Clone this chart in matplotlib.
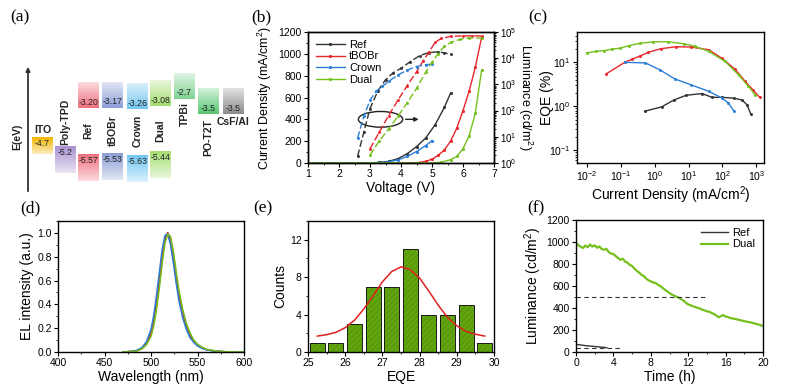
import numpy as np
import matplotlib
matplotlib.use('Agg')
import matplotlib.pyplot as plt
import matplotlib.colors as mcolors
from matplotlib.patches import Ellipse
from matplotlib.ticker import MultipleLocator, AutoMinorLocator, LogLocator, FormatStrFormatter

plt.rcParams['font.family'] = ['Liberation Sans', 'DejaVu Sans']
plt.rcParams['mathtext.fontset'] = 'custom'
plt.rcParams['mathtext.rm'] = 'Liberation Sans'
plt.rcParams['axes.linewidth'] = 1.0
plt.rcParams['hatch.linewidth'] = 0.4

# ---------------- data ----------------
# (a) energy levels
materials = ['ITO', 'Poly-TPD', 'Ref', 'tBOBr', 'Crown', 'Dual', 'TPBi', 'PO-T2T', 'CsF/Al']
lumo = [None, None, -3.20, -3.17, -3.26, -3.08, -2.7, -3.5, -3.5]
homo = [-4.7, -5.2, -5.57, -5.53, -5.63, -5.44, None, None, None]
lumo_txt = [None, None, '-3.20', '-3.17', '-3.26', '-3.08', '-2.7', '-3.5', '-3.5']
homo_txt = ['-4.7', '-5.2', '-5.57', '-5.53', '-5.63', '-5.44', None, None, None]
box_colors = ['#f2b600', '#a993d2', '#f0707e', '#8c9ed6', '#72c6f2', '#a4de70', '#80d292', '#58c670', '#8c8c8c']

devices = ['Ref', 'tBOBr', 'Crown', 'Dual']
dev_colors = ['#333333', '#e8272d', '#2a7fd6', '#74c01c']

# (b) J-V and L-V
v_j = {
    'Ref':   [1.0, 1.5, 2.0, 2.5, 3.0, 3.3, 3.6, 3.9, 4.2, 4.5, 4.8, 5.1, 5.4, 5.6],
    'tBOBr': [1.0, 1.5, 2.0, 2.5, 3.0, 3.5, 4.0, 4.5, 4.8, 5.0, 5.2, 5.4, 5.6, 5.8, 6.0, 6.2, 6.4, 6.6],
    'Crown': [1.0, 1.5, 2.0, 2.5, 3.0, 3.3, 3.6, 3.9, 4.2, 4.5, 4.8, 5.0],
    'Dual':  [1.0, 1.5, 2.0, 2.5, 3.0, 3.5, 4.0, 4.5, 5.0, 5.3, 5.6, 5.8, 6.0, 6.2, 6.4, 6.6],
}
j_val = {
    'Ref':   [0, 0, 0, 0, 1, 5, 15, 40, 85, 150, 230, 350, 510, 640],
    'tBOBr': [0, 0, 0, 0, 0, 0, 0, 2, 15, 35, 70, 120, 200, 320, 480, 660, 880, 1150],
    'Crown': [0, 0, 0, 0, 1, 4, 12, 28, 60, 105, 160, 205],
    'Dual':  [0, 0, 0, 0, 0, 0, 0, 0, 0, 8, 30, 60, 130, 250, 460, 850],
}
v_l = {
    'Ref':   [2.6, 2.8, 3.0, 3.25, 3.5, 3.75, 4.0, 4.3, 4.6, 4.9, 5.2, 5.4, 5.6],
    'tBOBr': [3.0, 3.3, 3.6, 3.9, 4.2, 4.5, 4.7, 4.9, 5.1, 5.3, 5.6, 6.0, 6.3, 6.6],
    'Crown': [2.6, 2.8, 3.0, 3.2, 3.4, 3.6, 3.9, 4.2, 4.5, 4.8, 5.0],
    'Dual':  [3.0, 3.3, 3.6, 3.9, 4.2, 4.5, 4.8, 5.0, 5.2, 5.4, 5.6, 5.9, 6.2, 6.6],
}
l_val = {
    'Ref':   [1.8, 15, 120, 550, 1500, 2800, 4100, 7400, 12500, 16500, 17500, 16000, 14000],
    'tBOBr': [3.5, 15, 65, 250, 900, 3000, 7500, 17000, 40000, 57000, 68000, 71000, 72000, 70000],
    'Crown': [9, 60, 250, 550, 850, 1300, 2300, 3500, 4800, 5700, 5900],
    'Dual':  [2, 7, 20, 60, 200, 700, 3000, 7000, 15000, 28000, 40000, 52000, 60000, 58000],
}

# (c) EQE vs current density
eqe_j = {
    'Ref':   [0.5, 1.6, 3.6, 8.5, 25, 49, 95, 215, 380, 530, 690],
    'tBOBr': [0.037, 0.135, 0.21, 0.37, 0.65, 1.5, 4.2, 11.5, 39, 95, 240, 470, 830, 1260],
    'Crown': [0.133, 0.53, 1.4, 3.9, 11.5, 39, 95, 150, 220],
    'Dual':  [0.0096, 0.018, 0.031, 0.055, 0.096, 0.17, 0.37, 0.89, 2.4, 7.1, 15.8, 39, 120, 300, 590, 940],
}
eqe_val = {
    'Ref':   [0.77, 0.97, 1.38, 1.78, 1.95, 1.6, 1.6, 1.53, 1.39, 1.09, 0.67],
    'tBOBr': [5.5, 10.2, 11.7, 14, 16.9, 20.4, 22.6, 22.3, 19.4, 12.5, 6.9, 3.7, 2.3, 1.6],
    'Crown': [10, 9.7, 6.8, 4.2, 3.1, 2.2, 1.55, 1.19, 0.77],
    'Dual':  [16.3, 17.8, 18.4, 20, 21, 24, 27, 29.4, 29.4, 26.5, 23, 17.8, 10.5, 5.2, 2.85, 1.78],
}

# (d) EL spectra
wavelength = [470, 480, 485, 490, 495, 500, 503, 506, 509, 512, 515, 518, 521, 524, 527,
              530, 534, 538, 542, 546, 550, 555, 560, 570, 580, 600]
el = {
    'Ref':   [0, 0.005, 0.012, 0.03, 0.07, 0.16, 0.26, 0.41, 0.6, 0.8, 0.95, 1.0, 0.94, 0.8, 0.63,
              0.48, 0.33, 0.22, 0.14, 0.09, 0.06, 0.035, 0.02, 0.007, 0.002, 0],
    'tBOBr': [0, 0.005, 0.011, 0.028, 0.066, 0.15, 0.25, 0.39, 0.58, 0.79, 0.94, 1.0, 0.95, 0.82, 0.65,
              0.5, 0.34, 0.23, 0.15, 0.095, 0.062, 0.036, 0.02, 0.007, 0.002, 0],
    'Crown': [0, 0.006, 0.015, 0.036, 0.085, 0.19, 0.31, 0.48, 0.67, 0.86, 0.98, 0.99, 0.9, 0.75, 0.58,
              0.43, 0.29, 0.19, 0.12, 0.08, 0.05, 0.03, 0.017, 0.006, 0.002, 0],
    'Dual':  [0, 0.004, 0.01, 0.025, 0.06, 0.13, 0.22, 0.36, 0.54, 0.74, 0.91, 0.99, 0.97, 0.85, 0.68,
              0.52, 0.36, 0.24, 0.16, 0.1, 0.065, 0.04, 0.022, 0.008, 0.002, 0],
}

# (e) EQE histogram + gaussian fit
bin_centers = [25.25, 25.75, 26.25, 26.75, 27.25, 27.75, 28.25, 28.75, 29.25, 29.75]
counts = [1, 1, 3, 7, 7, 11, 4, 4, 5, 1]
fit_x = [25.25, 25.5, 25.75, 26.0, 26.25, 26.5, 26.75, 27.0, 27.25, 27.5, 27.75,
         28.0, 28.25, 28.5, 28.75, 29.0, 29.25, 29.5, 29.75]
fit_y = [1.7, 1.85, 2.1, 2.6, 3.4, 4.6, 6.0, 7.5, 8.6, 9.1, 8.8,
         7.9, 6.5, 5.0, 3.7, 2.8, 2.2, 1.9, 1.7]

# (f) lifetime
t_dual = [i * 0.25 for i in range(81)]
lum_dual = [995, 970, 958, 945, 968, 952, 978, 958, 970, 948, 960, 935, 930, 938, 908, 895,
            890, 872, 855, 838, 848, 822, 812, 792, 782, 758, 738, 722, 702, 690, 668, 652,
            642, 632, 628, 612, 600, 584, 566, 552, 536, 522, 512, 502, 494, 480, 466, 448,
            432, 425, 415, 410, 400, 396, 384, 378, 370, 366, 355, 345, 332, 316, 326, 336,
            322, 318, 308, 305, 300, 296, 290, 286, 280, 276, 272, 268, 262, 256, 250, 244, 236]
t_ref = [0, 0.1, 0.5, 1.0, 1.5, 2.0, 2.5, 3.0, 3.3]
lum_ref = [85, 68, 64, 58, 54, 50, 46, 42, 39]

# ---------------- figure ----------------
W, H = 798, 390
fig = plt.figure(figsize=(W / 100, H / 100), dpi=100)


def px_axes(left, top, right, bottom):
    return fig.add_axes([left / W, 1 - bottom / H, (right - left) / W, (bottom - top) / H])


def style(ax, fs=7.5):
    ax.tick_params(direction='out', length=3, width=0.8, labelsize=fs, pad=1.5)
    ax.tick_params(which='minor', direction='out', length=1.6, width=0.6)


# panel labels
for lab, x, y in [('(a)', 10, 17), ('(b)', 251, 17), ('(c)', 528, 17),
                  ('(d)', 20, 208), ('(e)', 253, 208), ('(f)', 527, 208)]:
    fig.text(x / W, 1 - y / H, lab, family='Liberation Serif', fontsize=12.5, va='center', ha='left')

# ---------------- (a) ----------------
ax = fig.add_axes([0, 0, 258 / W, 1])
e_ref, y_ref, scale = -3.20, 108.3, 19.4


def E(ypx):
    return e_ref + (y_ref - ypx) / scale


ax.set_xlim(0, 258)
ax.set_ylim(E(H), E(0))
ax.axis('off')


def grad_box(x0, e0, e1, color, dark_top):
    rgb = np.array(mcolors.to_rgb(color))
    t = np.linspace(0, 1, 60)
    w = 0.25 + 0.75 * (t if dark_top else 1 - t)
    arr = rgb * w[:, None] + (1 - w[:, None])
    ax.imshow(arr[:, None, :], extent=[x0, x0 + 21, e0, e1], origin='lower',
              aspect='auto', interpolation='bilinear', zorder=1)


box_x = [32, 55, 78, 102, 127, 150, 174, 198, 223]
for i, m in enumerate(materials):
    x0 = box_x[i]
    if lumo[i] is not None:
        grad_box(x0, lumo[i], lumo[i] + 1.32, box_colors[i], False)
        ax.text(x0 + 10.5, lumo[i] + 0.3, lumo_txt[i], ha='center', va='center', fontsize=6.3, color='#222222')
    if homo[i] is not None:
        h = 0.86 if m == 'ITO' else 1.36
        grad_box(x0, homo[i] - h, homo[i], box_colors[i], True)
        ax.text(x0 + 10.5, homo[i] - 0.3, homo_txt[i], ha='center', va='center', fontsize=6.3, color='#222222')

lab_kw = dict(fontsize=7.5, fontweight='bold', color='#222222')
ax.text(box_x[0] + 10.5, E(130), 'ITO', ha='center', va='center', **lab_kw)
ax.text(box_x[1] + 10.5, E(145), 'Poly-TPD', ha='center', va='bottom', rotation=90, **lab_kw)
for i in range(2, 6):
    ax.text(box_x[i] + 10.5, E(131), materials[i], ha='center', va='center', rotation=90, **lab_kw)
ax.text(box_x[6] + 10.5, E(102), 'TPBi', ha='center', va='top', rotation=90, **lab_kw)
ax.text(box_x[7] + 10.5, E(119), 'PO-T2T', ha='center', va='top', rotation=90, **lab_kw)
ax.text(box_x[8] + 10.5, E(117), 'CsF/Al', ha='center', va='top', **lab_kw)
ax.text(17, E(137), 'E(eV)', ha='center', va='center', rotation=90, **lab_kw)
ax.annotate('', xy=(28, E(64)), xytext=(28, E(194)),
            arrowprops=dict(arrowstyle='-|>', color='#333333', lw=1.3, mutation_scale=6))

# ---------------- (b) ----------------
ax = px_axes(308, 32, 494, 163)
ax2 = ax.twinx()
for d, c in zip(devices, dev_colors):
    ax.plot(v_j[d], j_val[d], color=c, lw=1.0, marker='s', ms=1.1, label=d)
    ax2.plot(v_l[d], l_val[d], color=c, lw=1.0, ls=(0, (5, 2)), marker='s', ms=1.0)
ax.set_xlim(1, 7)
ax.set_ylim(0, 1200)
ax.xaxis.set_major_locator(MultipleLocator(1))
ax.yaxis.set_major_locator(MultipleLocator(200))
ax.yaxis.set_minor_locator(AutoMinorLocator(2))
ax.xaxis.set_minor_locator(AutoMinorLocator(2))
ax2.set_yscale('log')
ax2.set_ylim(1, 1e5)
style(ax)
style(ax2, fs=7)
ax.set_xlabel('Voltage (V)', fontsize=10, labelpad=1)
ax.set_ylabel('Current Density (mA/cm$^2$)', fontsize=9)
ax.yaxis.set_label_coords(-0.185, 0.5)
ax2.set_ylabel('Luminance (cd/m$^2$)', fontsize=9, rotation=270, va='center')
ax2.yaxis.set_label_coords(1.165, 0.5)
ax.add_patch(Ellipse((3.34, 400), 1.43, 144, fill=False, lw=1.0, ec='#222222'))
ax.annotate('', xy=(4.66, 400), xytext=(4.06, 400),
            arrowprops=dict(arrowstyle='-|>', color='#222222', lw=1.0, mutation_scale=6))
ax.legend(loc='upper left', frameon=False, fontsize=8, handlelength=2.6, labelspacing=0.15,
          borderaxespad=0.3, handletextpad=0.4)

# ---------------- (c) ----------------
ax = px_axes(577, 32, 764, 163)
for d, c in zip(devices, dev_colors):
    ax.plot(eqe_j[d], eqe_val[d], color=c, lw=1.0, marker='s', ms=1.0)
ax.set_xscale('log')
ax.set_yscale('log')
ax.set_xlim(10 ** -2.3, 10 ** 3.23)
ax.set_ylim(10 ** -1.29, 10 ** 1.69)
ax.xaxis.set_major_locator(LogLocator(base=10, numticks=20))
ax.yaxis.set_major_locator(LogLocator(base=10, numticks=20))
style(ax)
ax.set_xlabel('Current Density (mA/cm$^2$)', fontsize=10, labelpad=1)
ax.set_ylabel('EQE (%)', fontsize=10, va='center')
ax.yaxis.set_label_coords(-0.16, 0.5)

# ---------------- (d) ----------------
ax = px_axes(58, 221, 244, 352)
for d, c in zip(devices, dev_colors):
    ax.plot(wavelength, el[d], color=c, lw=1.1)
ax.set_xlim(400, 600)
ax.set_ylim(0, 1.1)
ax.xaxis.set_major_locator(MultipleLocator(50))
ax.xaxis.set_minor_locator(AutoMinorLocator(2))
ax.yaxis.set_major_locator(MultipleLocator(0.2))
ax.yaxis.set_minor_locator(AutoMinorLocator(2))
ax.yaxis.set_major_formatter(FormatStrFormatter('%.1f'))
style(ax)
ax.set_xlabel('Wavelength (nm)', fontsize=10, labelpad=1)
ax.set_ylabel('EL intensity (a.u.)', fontsize=10, labelpad=2)

# ---------------- (e) ----------------
ax = px_axes(308, 221, 494, 352)
ax.bar(bin_centers, counts, width=0.4, color='#62a310', edgecolor='#4a8a00', hatch='//////',
       lw=0, zorder=2)
ax.bar(bin_centers, counts, width=0.4, fill=False, edgecolor='#1a1a1a', lw=0.7, zorder=3)
ax.plot(fit_x, fit_y, color='#e02020', lw=1.1, zorder=4)
ax.set_xlim(25, 30)
ax.set_ylim(0, 14)
ax.xaxis.set_major_locator(MultipleLocator(1))
ax.xaxis.set_minor_locator(AutoMinorLocator(2))
ax.yaxis.set_major_locator(MultipleLocator(4))
ax.yaxis.set_minor_locator(AutoMinorLocator(2))
style(ax)
ax.set_xlabel('EQE', fontsize=10, labelpad=1)
ax.set_ylabel('Counts', fontsize=10, labelpad=2)

# ---------------- (f) ----------------
ax = px_axes(576, 220, 763, 352)
ax.plot(t_ref, lum_ref, color='#333333', lw=1.0, label='Ref')
ax.plot(t_dual, lum_dual, color='#74c01c', lw=1.6, label='Dual')
ax.plot([0, 13.8], [500, 500], color='#333333', lw=0.8, ls=(0, (4, 3)))
ax.plot([0, 4.7], [40, 40], color='#333333', lw=0.8, ls=(0, (4, 3)))
ax.set_xlim(0, 20)
ax.set_ylim(0, 1200)
ax.xaxis.set_major_locator(MultipleLocator(4))
ax.xaxis.set_minor_locator(AutoMinorLocator(2))
ax.yaxis.set_major_locator(MultipleLocator(200))
ax.yaxis.set_minor_locator(AutoMinorLocator(2))
style(ax)
ax.set_xlabel('Time (h)', fontsize=10, labelpad=1)
ax.set_ylabel('Luminance (cd/m$^2$)', fontsize=10, labelpad=2)
ax.legend(loc='upper right', frameon=False, fontsize=8, handlelength=2.4, labelspacing=0.15,
          borderaxespad=0.3, handletextpad=0.4)

fig.savefig('out.png', dpi=100)
